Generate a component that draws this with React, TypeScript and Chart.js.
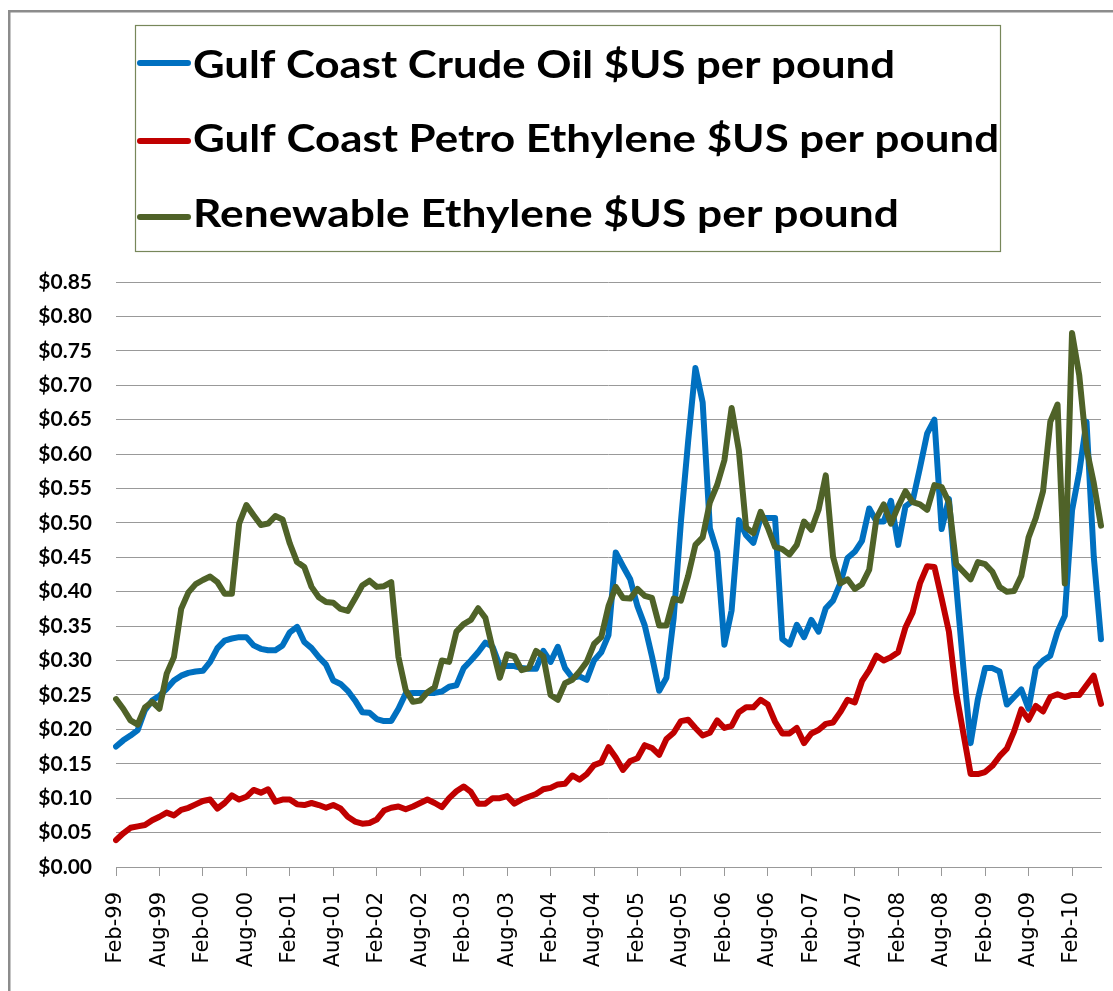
import React, { useEffect, useRef } from 'react';
import { Chart, registerables } from 'chart.js';

Chart.register(...registerables);

// ---- data (monthly, Feb-99 .. Jun-10) ----
const MONTH_NAMES = ['Jan', 'Feb', 'Mar', 'Apr', 'May', 'Jun', 'Jul', 'Aug', 'Sep', 'Oct', 'Nov', 'Dec'];
const START_YEAR = 1999;
const START_MONTH = 1; // Feb

const CRUDE_OIL = [
  0.175, 0.184, 0.191, 0.199, 0.228, 0.242, 0.249, 0.259, 0.271, 0.278, 0.282, 0.284,
  0.285, 0.298, 0.318, 0.329, 0.332, 0.334, 0.334, 0.322, 0.317, 0.315, 0.315, 0.322,
  0.341, 0.349, 0.327, 0.318, 0.305, 0.294, 0.271, 0.266, 0.256, 0.242, 0.225, 0.224,
  0.215, 0.212, 0.212, 0.230, 0.252, 0.253, 0.253, 0.253, 0.253, 0.255, 0.262,
  0.264, 0.289, 0.300, 0.312, 0.326, 0.320, 0.292, 0.292, 0.292, 0.289, 0.288, 0.288,
  0.314, 0.298, 0.320, 0.289, 0.275, 0.277,
  0.272, 0.300, 0.312, 0.337, 0.457, 0.437, 0.418, 0.379, 0.351, 0.306, 0.256, 0.275,
  0.362, 0.502, 0.619, 0.725, 0.675, 0.492,
  0.458, 0.323, 0.373, 0.504, 0.482, 0.471, 0.507, 0.507, 0.507, 0.331, 0.323, 0.352,
  0.334, 0.359, 0.342, 0.376, 0.387, 0.412, 0.449,
  0.458, 0.474, 0.521, 0.502, 0.502, 0.532, 0.468, 0.524, 0.532, 0.580, 0.630, 0.650,
  0.491, 0.535, 0.410, 0.290, 0.180, 0.244,
  0.289, 0.289, 0.284, 0.236, 0.247, 0.258, 0.230, 0.289, 0.300, 0.307, 0.342, 0.365,
  0.518, 0.574, 0.647, 0.451, 0.331,
];

const PETRO_ETHYLENE = [
  0.039, 0.049, 0.057, 0.059, 0.061, 0.068, 0.073, 0.079, 0.075, 0.083, 0.086, 0.091,
  0.096, 0.098, 0.085, 0.093, 0.104, 0.098, 0.102, 0.112, 0.108, 0.113, 0.095, 0.098,
  0.098, 0.091, 0.090, 0.093, 0.090, 0.086, 0.090, 0.085, 0.073, 0.066, 0.063, 0.064,
  0.069, 0.082, 0.086, 0.088, 0.084, 0.088, 0.093, 0.098, 0.093, 0.087, 0.100,
  0.110, 0.117, 0.109, 0.092, 0.092, 0.100, 0.100, 0.103, 0.092, 0.098, 0.102, 0.106,
  0.113, 0.115, 0.120, 0.121, 0.133, 0.127,
  0.135, 0.148, 0.152, 0.174, 0.159, 0.141, 0.154, 0.158, 0.177, 0.173, 0.163, 0.186,
  0.195, 0.212, 0.214, 0.202, 0.191, 0.195,
  0.213, 0.202, 0.205, 0.225, 0.232, 0.232, 0.243, 0.236, 0.211, 0.194, 0.194, 0.202,
  0.180, 0.194, 0.199, 0.208, 0.210, 0.225, 0.243,
  0.239, 0.270, 0.286, 0.307, 0.300, 0.305, 0.312, 0.348, 0.370, 0.412, 0.437, 0.436,
  0.390, 0.342, 0.253, 0.194, 0.135, 0.135,
  0.138, 0.147, 0.161, 0.172, 0.197, 0.229, 0.214, 0.234, 0.226, 0.247, 0.251, 0.247,
  0.250, 0.250, 0.264, 0.278, 0.237,
];

const RENEWABLE_ETHYLENE = [
  0.244, 0.230, 0.213, 0.207, 0.232, 0.240, 0.230, 0.281, 0.305, 0.375, 0.399, 0.411,
  0.417, 0.422, 0.414, 0.397, 0.397, 0.499, 0.526, 0.511, 0.497, 0.499, 0.510, 0.505,
  0.470, 0.443, 0.436, 0.407, 0.392, 0.385, 0.384, 0.375, 0.372, 0.390, 0.409, 0.416,
  0.407, 0.408, 0.414, 0.305, 0.257, 0.240, 0.242, 0.254, 0.261, 0.300, 0.298,
  0.342, 0.353, 0.359, 0.376, 0.362, 0.317, 0.275, 0.309, 0.306, 0.286, 0.289, 0.314,
  0.306, 0.250, 0.243, 0.267, 0.272, 0.284,
  0.298, 0.324, 0.334, 0.379, 0.407, 0.391, 0.390, 0.404, 0.394, 0.391, 0.351, 0.351,
  0.390, 0.387, 0.423, 0.468, 0.479, 0.530,
  0.555, 0.591, 0.667, 0.605, 0.493, 0.485, 0.516, 0.493, 0.465, 0.462, 0.454, 0.468,
  0.502, 0.490, 0.519, 0.569, 0.451, 0.412, 0.418,
  0.404, 0.411, 0.432, 0.507, 0.527, 0.499, 0.524, 0.546, 0.530, 0.527, 0.519, 0.555,
  0.552, 0.530, 0.440, 0.429, 0.418, 0.443,
  0.440, 0.429, 0.407, 0.400, 0.401, 0.423, 0.479, 0.507, 0.546, 0.647, 0.672, 0.412,
  0.776, 0.714, 0.608, 0.558, 0.496,
];

const SERIES_LABELS = [
  'Gulf Coast Crude Oil $US per pound',
  'Gulf Coast Petro Ethylene $US per pound',
  'Renewable Ethylene $US per pound',
];
const SERIES_COLORS = ['#0070C0', '#C00000', '#4F6228'];

const MONTH_LABELS: string[] = [];
for (let i = 0; i < CRUDE_OIL.length; i++) {
  const m = (START_MONTH + i) % 12;
  const y = START_YEAR + Math.floor((START_MONTH + i) / 12);
  MONTH_LABELS.push(MONTH_NAMES[m] + '-' + String(y % 100).padStart(2, '0'));
}

const Y_MIN = 0;
const Y_MAX = 0.85;
const Y_STEP = 0.05;
const LABEL_EVERY = 6;

// ---- layout of the framed legend (styling only) ----
const LEGEND_BOX = { x: 135.5, y: 25.5, w: 865, h: 226 };
const LEGEND_ROW_LINE_Y = [63, 141, 217];
const LEGEND_ROW_BASELINE = [78, 152, 227];
const LEGEND_TEXT_WIDTH = [702, 806, 706];

const framePlugin = {
  id: 'frame',
  beforeDraw(chart: any) {
    const ctx = chart.ctx;
    ctx.save();
    ctx.fillStyle = '#ffffff';
    ctx.fillRect(0, 0, chart.width, chart.height);
    ctx.strokeStyle = '#8c8c8c';
    ctx.lineWidth = 2.5;
    ctx.strokeRect(9.25, 11.25, 1400, 1400);
    ctx.restore();
  },
};

const boxLegendPlugin = {
  id: 'boxLegend',
  afterDraw(chart: any) {
    const ctx = chart.ctx;
    ctx.save();
    ctx.strokeStyle = '#77875a';
    ctx.lineWidth = 1.2;
    ctx.strokeRect(LEGEND_BOX.x, LEGEND_BOX.y, LEGEND_BOX.w, LEGEND_BOX.h);
    chart.data.datasets.forEach((ds: any, i: number) => {
      const ly = LEGEND_ROW_LINE_Y[i];
      ctx.strokeStyle = ds.borderColor;
      ctx.lineWidth = 6;
      ctx.lineCap = 'round';
      ctx.beginPath();
      ctx.moveTo(140, ly);
      ctx.lineTo(188, ly);
      ctx.stroke();
      ctx.font = 'bold 38px Lato';
      ctx.fillStyle = '#000000';
      ctx.textBaseline = 'alphabetic';
      ctx.textAlign = 'left';
      const w = ctx.measureText(ds.label).width;
      const sx = LEGEND_TEXT_WIDTH[i] / w;
      ctx.save();
      ctx.translate(193, LEGEND_ROW_BASELINE[i]);
      ctx.scale(sx, 1);
      ctx.fillText(ds.label, 0, 0);
      ctx.restore();
    });
    ctx.restore();
  },
};

export default function App() {
  const canvasRef = useRef<HTMLCanvasElement>(null);

  useEffect(() => {
    if (!canvasRef.current) return;
    const seriesData = [CRUDE_OIL, PETRO_ETHYLENE, RENEWABLE_ETHYLENE];
    const drawOrder = [3, 2, 1];
    const chart = new Chart(canvasRef.current, {
      type: 'line',
      data: {
        labels: MONTH_LABELS,
        datasets: seriesData.map((d, i) => ({
          label: SERIES_LABELS[i],
          data: d,
          borderColor: SERIES_COLORS[i],
          backgroundColor: SERIES_COLORS[i],
          borderWidth: 6,
          pointRadius: 0,
          tension: 0,
          fill: false,
          borderJoinStyle: 'round',
          borderCapStyle: 'round',
          order: drawOrder[i],
        })),
      },
      options: {
        animation: false,
        responsive: true,
        maintainAspectRatio: false,
        layout: { padding: { top: 282, right: 12, bottom: 0, left: 0 } },
        plugins: {
          legend: { display: false },
          tooltip: { enabled: false },
        },
        scales: {
          x: {
            type: 'category',
            offset: false,
            grid: {
              display: true,
              drawOnChartArea: false,
              drawTicks: true,
              tickLength: 9,
              color: '#999999',
              lineWidth: 1,
            },
            border: { display: true, color: '#999999', width: 1 },
            ticks: {
              autoSkip: false,
              minRotation: 90,
              maxRotation: 90,
              padding: 16,
              color: '#000000',
              font: { family: 'DejaVu Sans', size: 21 },
              callback: (_v: any, i: number) => (i % LABEL_EVERY === 0 ? MONTH_LABELS[i] : null),
            },
            afterFit: (s: any) => {
              s.height = 124;
              s.paddingLeft = 0;
              s.paddingRight = 0;
            },
          },
          y: {
            min: Y_MIN,
            max: Y_MAX,
            ticks: {
              stepSize: Y_STEP,
              padding: 24,
              color: '#000000',
              font: { family: 'Lato', size: 21, weight: 'bold' },
              callback: (v: any) => '$' + Number(v).toFixed(2),
            },
            grid: { color: '#999999', lineWidth: 1, drawTicks: false },
            border: { display: false },
            afterFit: (s: any) => {
              s.width = 116;
              s.paddingTop = 0;
              s.paddingBottom = 0;
            },
          },
        },
      } as any,
      plugins: [framePlugin, boxLegendPlugin],
    });
    return () => chart.destroy();
  }, []);

  return (
    <div style={{ position: 'fixed', left: 0, top: 0, width: 1113, height: 991, background: '#fff' }}>
      <canvas ref={canvasRef} />
    </div>
  );
}
